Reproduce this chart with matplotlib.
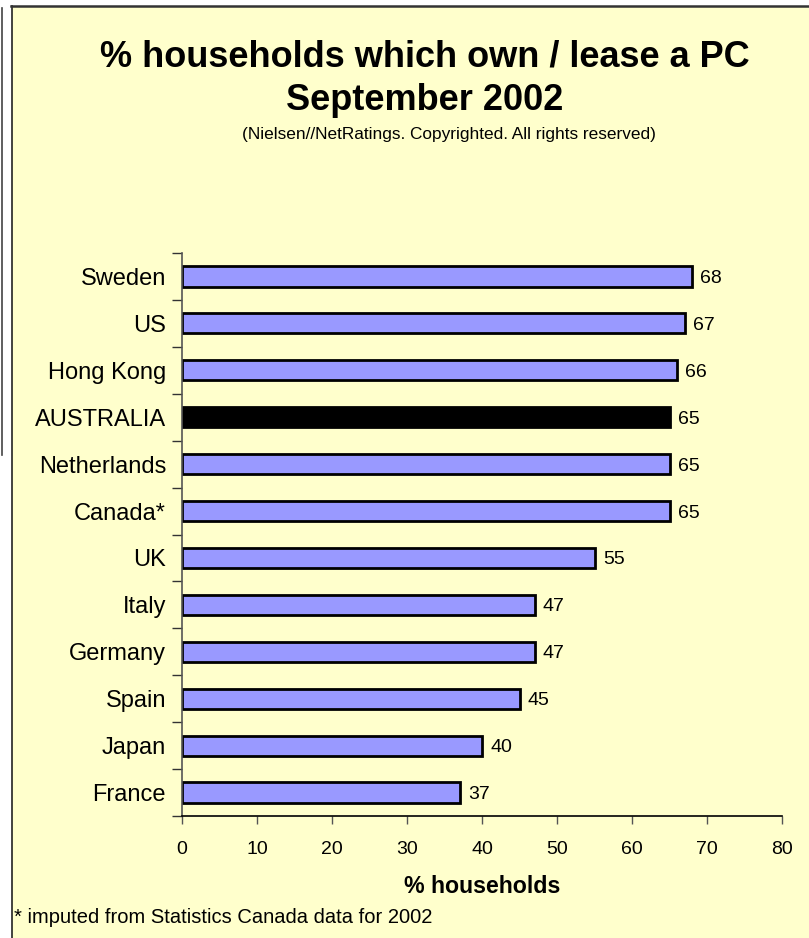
import matplotlib
matplotlib.use("Agg")
import matplotlib.pyplot as plt
from matplotlib.lines import Line2D
from matplotlib.patches import Rectangle

countries = ["Sweden", "US", "Hong Kong", "AUSTRALIA", "Netherlands", "Canada*",
             "UK", "Italy", "Germany", "Spain", "Japan", "France"]
values = [68, 67, 66, 65, 65, 65, 55, 47, 47, 45, 40, 37]
highlight = "AUSTRALIA"
xticks = [0, 10, 20, 30, 40, 50, 60, 70, 80]

W, H = 809, 938
plt.rcParams["font.family"] = ["Liberation Sans", "DejaVu Sans"]
fig = plt.figure(figsize=(W / 100, H / 100), dpi=100, facecolor="white")

def fx(px):
    return px / W

def fy(py):
    return 1 - py / H

# yellow panel + frame
fig.patches.append(Rectangle((fx(12), 0), 1 - fx(12), fy(7), transform=fig.transFigure,
                             facecolor="#FFFFCC", edgecolor="none", zorder=-5))
fig.lines.append(Line2D([fx(11.5), fx(11.5)], [0, fy(6)], transform=fig.transFigure,
                        color="#222222", lw=1.2))
fig.lines.append(Line2D([fx(11), 1], [fy(6.5), fy(6.5)], transform=fig.transFigure,
                        color="#333333", lw=1.8))
# edge of the neighbouring box on the left
fig.lines.append(Line2D([fx(1.5), fx(1.5)], [fy(8), fy(455)], transform=fig.transFigure,
                        color="#444444", lw=1.2))

ax = fig.add_axes([fx(182), fy(816), fx(782) - fx(182), fy(253) - fy(816)])
ax.set_facecolor("none")
ax.set_zorder(2)

ypos = list(range(len(countries)))
colors = ["black" if c == highlight else "#9999FF" for c in countries]
ax.barh(ypos, values, height=0.43, color=colors, edgecolor="black", linewidth=2.0)
for y, v in zip(ypos, values):
    ax.text(v + 1.1, y, str(v), va="center_baseline", ha="left", fontsize=14)

ax.set_xlim(0, 80)
ax.set_ylim(len(countries) - 0.5, -0.5)
ax.set_xticks(xticks)
ax.set_xticklabels([str(t) for t in xticks], fontsize=14)
ax.tick_params(axis="x", direction="out", length=6, width=1, color="#555555", pad=12)

ax.set_yticks([i - 0.5 for i in range(len(countries) + 1)])
ax.set_yticklabels([])
ax.tick_params(axis="y", which="major", direction="out", length=7, width=1, color="#333333")
ax.set_yticks(ypos, minor=True)
ax.set_yticklabels(countries, minor=True, fontsize=17, va="center_baseline")
ax.tick_params(axis="y", which="minor", length=0, pad=11.5)

for s in ["top", "right"]:
    ax.spines[s].set_visible(False)
ax.spines["left"].set_color("#555555")
ax.spines["bottom"].set_color("black")
ax.spines["left"].set_linewidth(1.2)
ax.spines["bottom"].set_linewidth(1.2)

ax.set_xlabel("% households", fontsize=16.7, fontweight="bold", labelpad=12)

fig.text(fx(425), fy(57), "% households which own / lease a PC", ha="center", va="center",
         fontsize=26, fontweight="bold")
fig.text(fx(425), fy(100), "September 2002", ha="center", va="center",
         fontsize=26, fontweight="bold")
fig.text(fx(449), fy(134), "(Nielsen//NetRatings. Copyrighted. All rights reserved)",
         ha="center", va="center", fontsize=12.4)
fig.text(fx(14), fy(917), "* imputed from Statistics Canada data for 2002", ha="left",
         va="center", fontsize=14.5)

fig.savefig("out.png", dpi=100, facecolor="white")
